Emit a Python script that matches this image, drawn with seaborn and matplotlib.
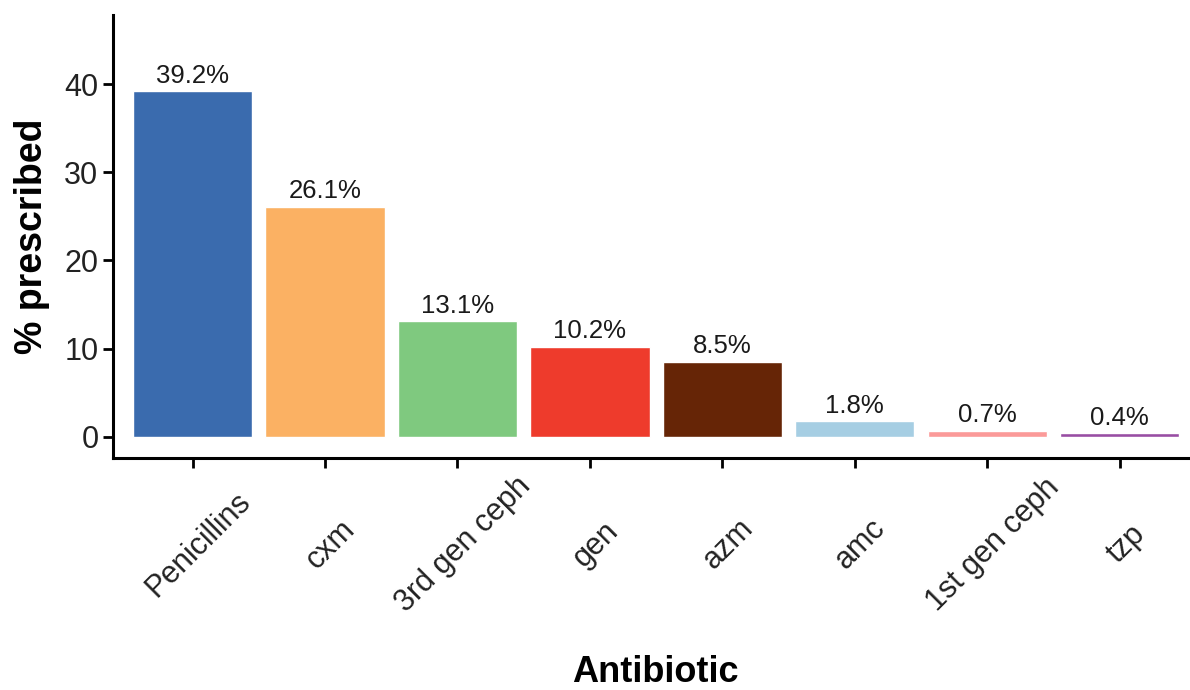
import matplotlib
matplotlib.use('Agg')

import pandas as pd
import matplotlib.pyplot as plt
import matplotlib.transforms as mtransforms
import seaborn as sns

# data
antibiotics = ["Penicillins", "cxm", "3rd gen ceph", "gen", "azm", "amc", "1st gen ceph", "tzp"]
pct_prescribed = [39.2, 26.1, 13.1, 10.2, 8.5, 1.8, 0.7, 0.4]
bar_colors = ["#3A6BAE", "#FBB163", "#7FC97F", "#EE3B2C", "#662506", "#A6CEE3", "#FB9A99", "#984EA3"]

df = pd.DataFrame({"Antibiotic": antibiotics, "pct": pct_prescribed})

sns.set_style("ticks")
plt.rcParams['font.family'] = ['Liberation Sans', 'DejaVu Sans']

fig = plt.figure(figsize=(11.9, 6.9), dpi=100)
ax = fig.add_axes([0.095, 0.336, 0.905, 0.642])

sns.barplot(data=df, x="Antibiotic", y="pct", hue="Antibiotic",
            palette=bar_colors, width=0.9, saturation=1, legend=False, ax=ax)

# percentage labels on top of each bar
for i, v in enumerate(pct_prescribed):
    ax.text(i, v + 0.4, f"{v}%", ha="center", va="bottom", fontsize=18.5, color="#1a1a1a")

ax.set_xlim(-0.6, 7.53)
ax.set_ylim(-2.4, 47.8)
ax.set_yticks([0, 10, 20, 30, 40])

ax.set_ylabel("% prescribed", fontsize=27, fontweight="bold", labelpad=10, color="black")
ax.set_xlabel("Antibiotic", fontsize=26, fontweight="bold", color="black")
ax.xaxis.set_label_coords(0.504, -0.483)
ax.xaxis.label.set_va("center")

ax.tick_params(axis="both", labelsize=22, length=7, width=2, colors="black", labelcolor="#222222")
ax.tick_params(axis="x", pad=55)

# rotated tick labels, centred below each tick
offset = mtransforms.ScaledTranslation(0.06, 0, fig.dpi_scale_trans)
for lab in ax.get_xticklabels():
    lab.set_rotation(45)
    lab.set_ha("center")
    lab.set_va("center")
    lab.set_rotation_mode("anchor")
    lab.set_transform(lab.get_transform() + offset)

ax.spines["top"].set_visible(False)
ax.spines["right"].set_visible(False)
ax.spines["left"].set_linewidth(2.2)
ax.spines["bottom"].set_linewidth(2.2)
ax.spines["left"].set_color("black")
ax.spines["bottom"].set_color("black")

fig.savefig("out.png", dpi=100)
